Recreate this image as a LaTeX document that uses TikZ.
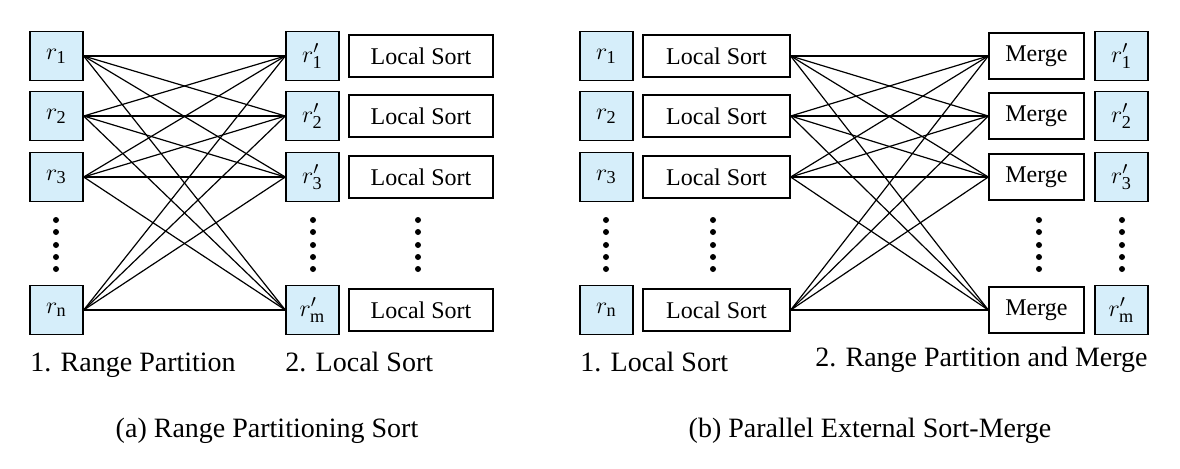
\documentclass[tikz,border=0pt]{standalone}
\usepackage{fontspec}
\setmainfont{Liberation Serif}
\usetikzlibrary{positioning}
\definecolor{relBlue}{RGB}{214,238,250}

\begin{document}
\begin{tikzpicture}[x=0.5pt,y=-0.5pt,
    rel/.style={draw, fill=relBlue, line width=0.7pt, inner sep=0pt,
      minimum width=26.5pt, minimum height=24.5pt, font=\fontsize{13}{15}\selectfont},
    sortbox/.style={draw, fill=white, line width=0.7pt, inner sep=0pt,
      minimum width=72pt, minimum height=21pt, font=\fontsize{12}{14}\selectfont},
    mergebox/.style={sortbox, minimum width=47.5pt, minimum height=23pt},
    lbl/.style={inner sep=0pt, font=\fontsize{14}{16}\selectfont},
    wire/.style={line width=0.6pt}
  ]
  \useasboundingbox (0,0) rectangle (1180,468);

  % (a) range partitioning sort
  \foreach \i/\j/\y in {1/1/56,2/2/116,3/3/177,n/m/310} {
    \node[rel] (r\i) at (56.5,\y) {$r_{\mathrm{\i}}$};
    \node[rel] (p\j) at (312.5,\y) {$r'_{\mathrm{\j}}$};
    \node[sortbox] (ls\j) at (421,\y) {Local Sort};
  }
  \foreach \a in {1,2,3,n}
    \foreach \b in {1,2,3,m}
      \draw[wire] (r\a.east) -- (p\b.west);

  % (b) parallel external sort-merge
  \foreach \i/\j/\y in {1/1/56,2/2/116,3/3/177,n/m/310} {
    \node[rel] (br\i) at (606.5,\y) {$r_{\mathrm{\i}}$};
    \node[sortbox, minimum width=73.5pt] (bls\i) at (716.5,\y) {Local Sort};
    \node[mergebox] (bmg\j) at (1036.5,\y) {Merge};
    \node[rel] (bp\j) at (1121.5,\y) {$r'_{\mathrm{\j}}$};
  }
  \foreach \a in {1,2,3,n}
    \foreach \b in {1,2,3,m}
      \draw[wire] (bls\a.east) -- (bmg\b.west);

  % dots
  \foreach \x in {56,313,418,606,713,1039,1122}
    \foreach \y in {220,232,245,257,269}
      \fill (\x,\y) circle (1.5pt);

  % labels
  \node[lbl, anchor=base west] (la1) at (30,371) {1. Range Partition};
  \node[lbl, anchor=base west] (la2) at (285,371) {2. Local Sort};
  \node[lbl, anchor=base west] (lb1) at (580,371) {1. Local Sort};
  \node[lbl, anchor=base east] (lb2) at (1148,366) {2. Range Partition and Merge};
  \node[lbl, anchor=base] (capa) at (267,437) {(a) Range Partitioning Sort};
  \node[lbl, anchor=base] (capb) at (870,437) {(b) Parallel External Sort-Merge};
\end{tikzpicture}
\end{document}
